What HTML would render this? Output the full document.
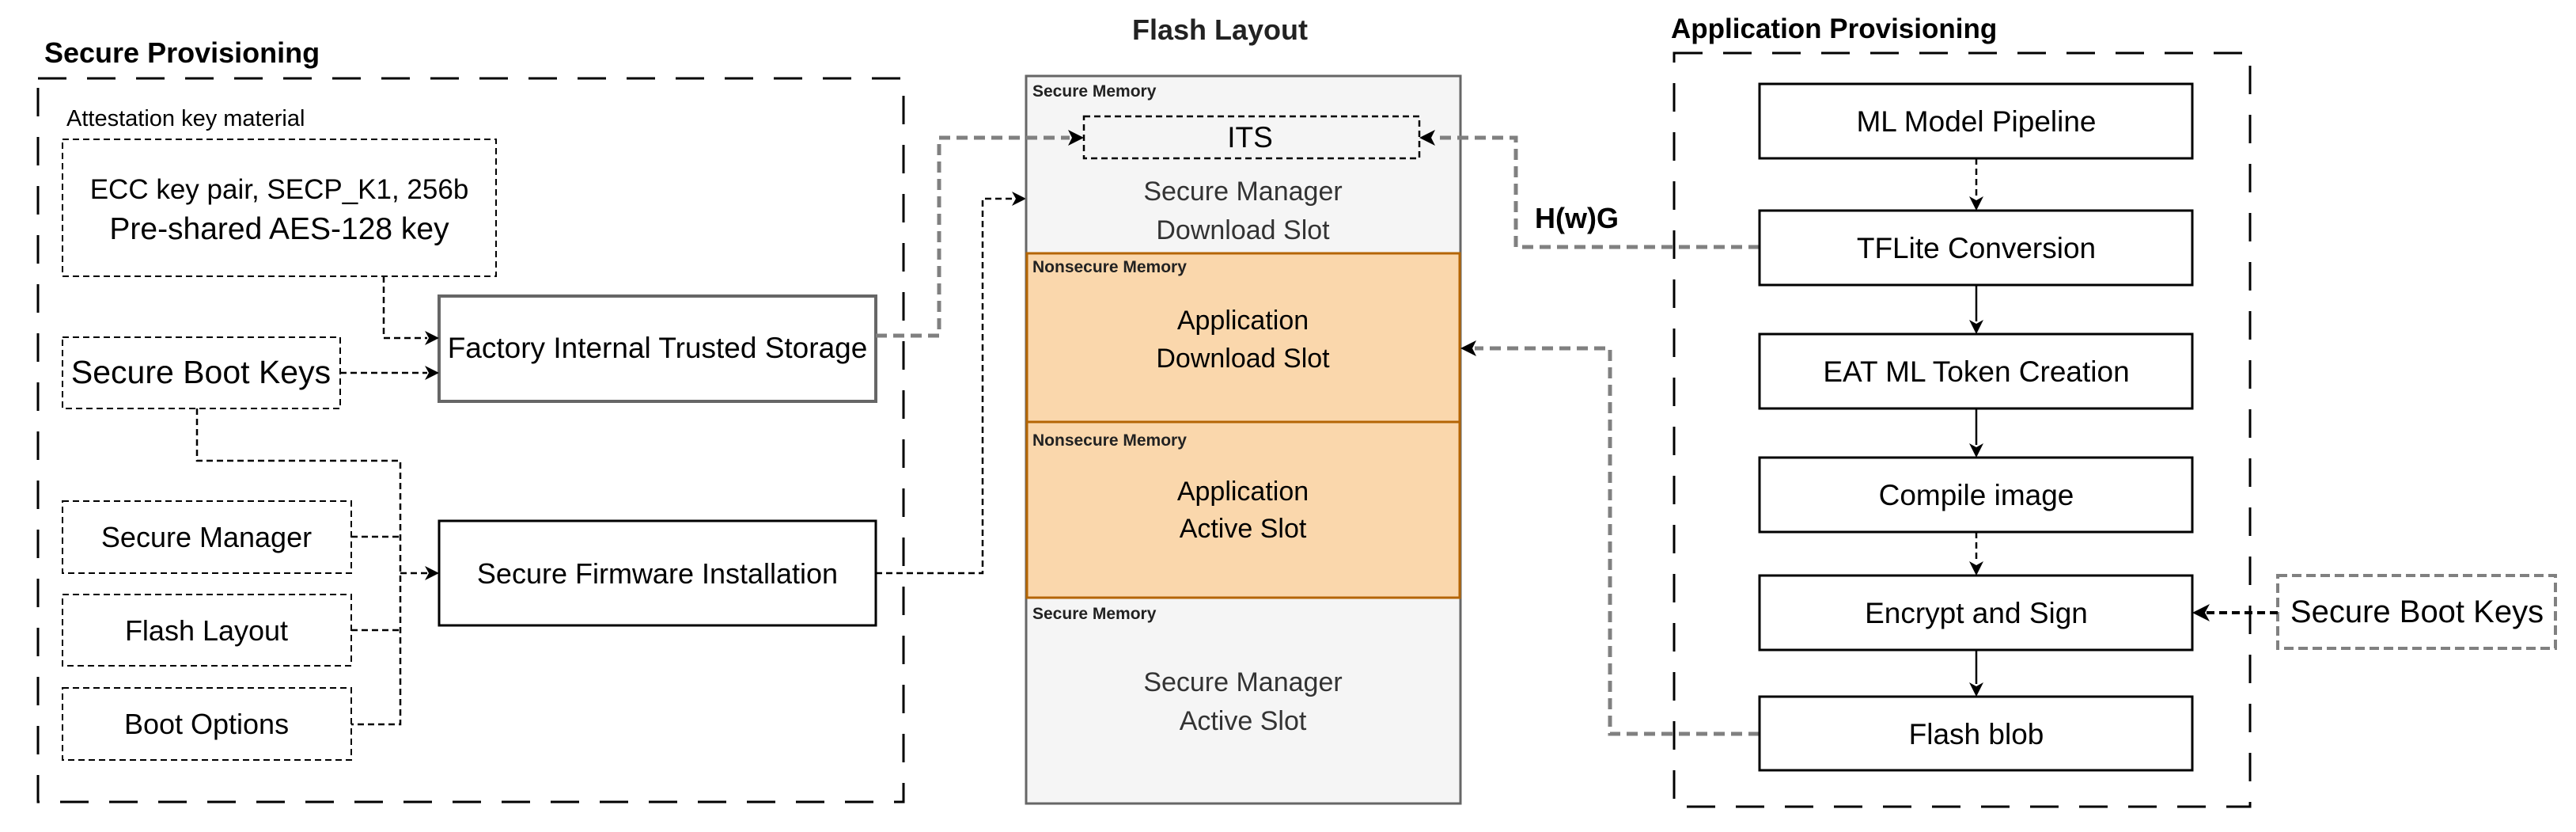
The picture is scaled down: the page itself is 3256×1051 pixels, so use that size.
<!DOCTYPE html>
<html><head><meta charset="utf-8"><style>
html,body{margin:0;padding:0;background:#fff;}
svg{display:block;}
text{font-family:"Liberation Sans",Arial,sans-serif;}
</style></head><body>
<svg width="3256" height="1051" viewBox="0 0 3256 1051" xmlns="http://www.w3.org/2000/svg">
<defs>
<marker id="ab" markerWidth="10" markerHeight="10" refX="9" refY="5" orient="auto" markerUnits="userSpaceOnUse" viewBox="0 0 10 10">
</marker>
</defs>
<rect width="3256" height="1051" fill="#fff"/>

<!-- Secure Provisioning -->
<text x="56" y="79" font-size="36" font-weight="bold">Secure Provisioning</text>
<rect x="48" y="99" width="1094" height="914" fill="none" stroke="#000" stroke-width="3" stroke-dasharray="36,26"/>
<text x="84" y="159" font-size="29">Attestation key material</text>
<rect x="79" y="176" width="548" height="173" fill="none" stroke="#000" stroke-width="2" stroke-dasharray="8,5"/>
<text x="353" y="251" font-size="35" text-anchor="middle">ECC key pair, SECP_K1, 256b</text>
<text x="353" y="302" font-size="39" text-anchor="middle">Pre-shared AES-128 key</text>

<rect x="555" y="374" width="552" height="133" fill="#fff" stroke="#666" stroke-width="4"/>
<text x="831" y="452" font-size="37" text-anchor="middle">Factory Internal Trusted Storage</text>

<rect x="79" y="426" width="351" height="90" fill="none" stroke="#000" stroke-width="2" stroke-dasharray="8,5"/>
<text x="254" y="484" font-size="41" text-anchor="middle">Secure Boot Keys</text>

<rect x="79" y="633" width="365" height="91" fill="none" stroke="#000" stroke-width="2" stroke-dasharray="8,5"/>
<text x="261" y="691" font-size="36" text-anchor="middle">Secure Manager</text>
<rect x="79" y="751" width="365" height="90" fill="none" stroke="#000" stroke-width="2" stroke-dasharray="8,5"/>
<text x="261" y="809" font-size="36" text-anchor="middle">Flash Layout</text>
<rect x="79" y="869" width="365" height="91" fill="none" stroke="#000" stroke-width="2" stroke-dasharray="8,5"/>
<text x="261" y="927" font-size="36" text-anchor="middle">Boot Options</text>

<rect x="555" y="658" width="552" height="132" fill="#fff" stroke="#000" stroke-width="3"/>
<text x="831" y="737" font-size="36" text-anchor="middle">Secure Firmware Installation</text>

<g fill="none" stroke="#000" stroke-width="2.5" stroke-dasharray="8,5">
<path d="M485 349 V427 H540"/>
<path d="M430 471 H540"/>
<path d="M249 516 V582 H506 V915 H444"/>
<path d="M444 678 H506"/>
<path d="M444 796 H506"/>
<path d="M506 724 H540"/>
<path d="M1107 724 H1242 V251 H1284"/>
</g>
<g fill="#000">
<polygon points="555,427 537,418 542,427 537,436"/>
<polygon points="555,471 537,462 542,471 537,480"/>
<polygon points="555,724 537,715 542,724 537,733"/>
<polygon points="1297,251 1279,242 1284,251 1279,260"/>
</g>

<!-- Flash Layout -->
<text x="1542" y="50" font-size="36" font-weight="bold" text-anchor="middle" fill="#222">Flash Layout</text>
<rect x="1297" y="96" width="549" height="919" fill="#f5f5f5" stroke="#666" stroke-width="3"/>
<rect x="1298" y="320" width="547" height="213" fill="#fad7ac" stroke="#b46504" stroke-width="3"/>
<rect x="1298" y="533" width="547" height="222" fill="#fad7ac" stroke="#b46504" stroke-width="3"/>
<g font-size="21" font-weight="bold" fill="#222">
<text x="1305" y="122">Secure Memory</text>
<text x="1305" y="344">Nonsecure Memory</text>
<text x="1305" y="563">Nonsecure Memory</text>
<text x="1305" y="782">Secure Memory</text>
</g>
<rect x="1370" y="147" width="424" height="53" fill="none" stroke="#000" stroke-width="2.5" stroke-dasharray="8,5"/>
<text x="1580" y="186" font-size="37" text-anchor="middle">ITS</text>
<g font-size="34" text-anchor="middle" fill="#333">
<text x="1571" y="253">Secure Manager</text>
<text x="1571" y="302">Download Slot</text>
<text x="1571" y="873">Secure Manager</text>
<text x="1571" y="922">Active Slot</text>
</g>
<g font-size="34" text-anchor="middle" fill="#000">
<text x="1571" y="416">Application</text>
<text x="1571" y="464">Download Slot</text>
<text x="1571" y="632">Application</text>
<text x="1571" y="679">Active Slot</text>
</g>

<g fill="none" stroke="#808080" stroke-width="5" stroke-dasharray="14,8">
<path d="M1107 424 H1187 V174 H1352"/>
<path d="M2224 312 H1916 V174 H1812"/>
<path d="M2224 927 H2035 V440 H1864"/>
</g>
<g fill="#000">
<polygon points="1370,174 1350,164 1355,174 1350,184"/>
<polygon points="1794,174 1814,164 1809,174 1814,184"/>
<polygon points="1846,440 1866,430 1861,440 1866,450"/>
</g>
<text x="1940" y="288" font-size="36" font-weight="bold">H(w)G</text>

<!-- Application Provisioning -->
<text x="2112" y="48" font-size="35" font-weight="bold">Application Provisioning</text>
<rect x="2116" y="67" width="728" height="952" fill="none" stroke="#000" stroke-width="3" stroke-dasharray="36,26"/>
<g fill="#fff" stroke="#000" stroke-width="3">
<rect x="2224" y="106" width="547" height="94"/>
<rect x="2224" y="266" width="547" height="94"/>
<rect x="2224" y="422" width="547" height="94"/>
<rect x="2224" y="578" width="547" height="94"/>
<rect x="2224" y="727" width="547" height="94"/>
<rect x="2224" y="880" width="547" height="93"/>
</g>
<g font-size="37" text-anchor="middle">
<text x="2498" y="166">ML Model Pipeline</text>
<text x="2498" y="326">TFLite Conversion</text>
<text x="2498" y="482">EAT ML Token Creation</text>
<text x="2498" y="638">Compile image</text>
<text x="2498" y="787">Encrypt and Sign</text>
<text x="2498" y="940">Flash blob</text>
</g>
<g stroke="#000" stroke-width="2.5" fill="none">
<path d="M2498 200 V250" stroke-dasharray="8,5"/>
<path d="M2498 360 V406"/>
<path d="M2498 516 V562"/>
<path d="M2498 672 V711" stroke-dasharray="8,5"/>
<path d="M2498 821 V864"/>
</g>
<g fill="#000">
<polygon points="2498,266 2489,248 2498,253 2507,248"/>
<polygon points="2498,422 2489,404 2498,409 2507,404"/>
<polygon points="2498,578 2489,560 2498,565 2507,560"/>
<polygon points="2498,727 2489,709 2498,714 2507,709"/>
<polygon points="2498,880 2489,862 2498,867 2507,862"/>
</g>
<rect x="2879" y="727" width="351" height="92" fill="none" stroke="#808080" stroke-width="4" stroke-dasharray="12,6"/>
<text x="3055" y="786" font-size="40" text-anchor="middle">Secure Boot Keys</text>
<path d="M2879 774 H2789" fill="none" stroke="#000" stroke-width="4" stroke-dasharray="10,6"/>
<polygon points="2771,774 2793,763 2787,774 2793,785" fill="#000"/>
</svg>
</body></html>
